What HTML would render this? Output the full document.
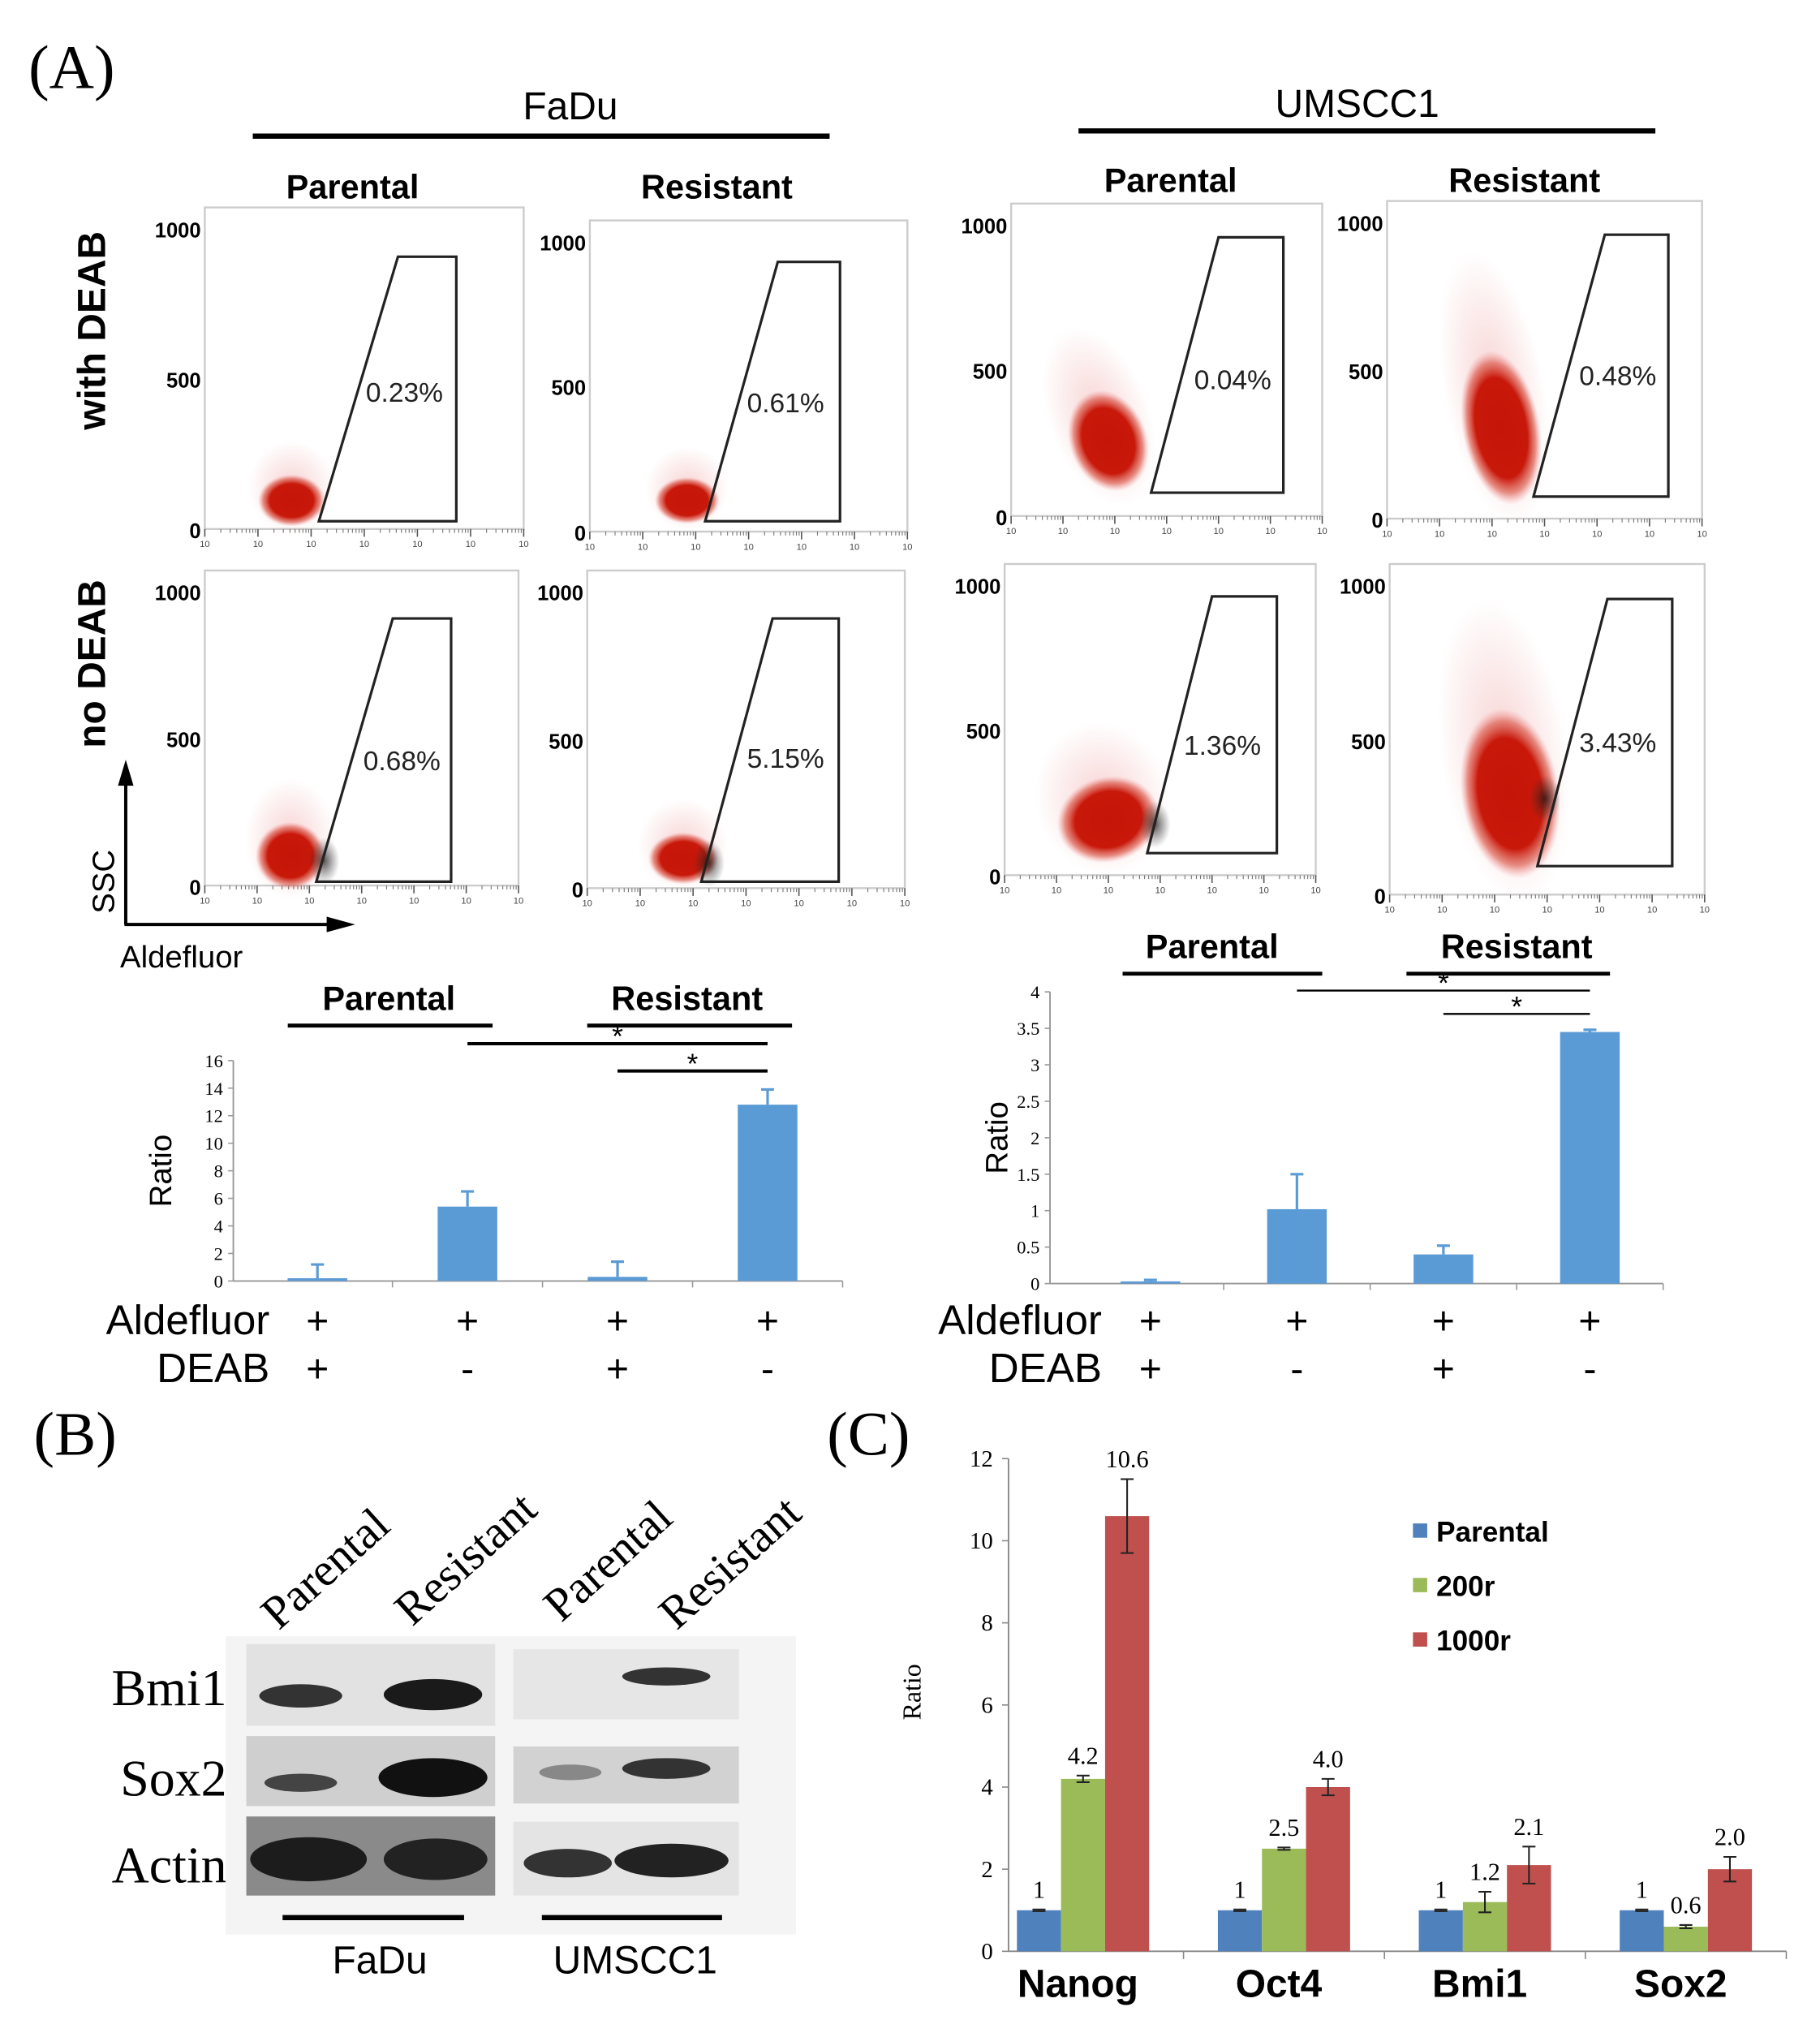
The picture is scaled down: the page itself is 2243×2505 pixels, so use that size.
<!DOCTYPE html>
<html><head><meta charset="utf-8"><style>
html,body{margin:0;padding:0;background:#fff;}
svg{display:block;}
.sans{font-family:"Liberation Sans",sans-serif;}
.serif{font-family:"Liberation Serif",serif;}
</style></head><body>
<svg id="fig" width="2243" height="2505" viewBox="0 0 1404 1568" xmlns="http://www.w3.org/2000/svg">
<defs>
<radialGradient id="redg"><stop offset="0" stop-color="#c41508"/><stop offset="0.65" stop-color="#c8180a"/><stop offset="0.85" stop-color="#d84a3a" stop-opacity="0.6"/><stop offset="1" stop-color="#e88" stop-opacity="0"/></radialGradient>
<radialGradient id="blkg"><stop offset="0" stop-color="#111" stop-opacity="0.7"/><stop offset="1" stop-color="#333" stop-opacity="0"/></radialGradient>
<radialGradient id="fadeg"><stop offset="0" stop-color="#d33" stop-opacity="0.22"/><stop offset="1" stop-color="#d33" stop-opacity="0"/></radialGradient>
</defs>
<rect width="1404" height="1568" fill="#fff"/>
<text class="serif" x="22" y="68" font-size="48">(A)</text>
<text class="sans" x="440" y="92" font-size="30" text-anchor="middle">FaDu</text>
<line x1="195" y1="105" x2="640" y2="105" stroke="#000" stroke-width="4"/>
<text class="sans" x="1047" y="90" font-size="30" text-anchor="middle">UMSCC1</text>
<line x1="832" y1="101" x2="1277" y2="101" stroke="#000" stroke-width="4"/>
<text class="sans" x="272" y="153" font-size="26" font-weight="bold" text-anchor="middle">Parental</text>
<text class="sans" x="553" y="153" font-size="26" font-weight="bold" text-anchor="middle">Resistant</text>
<text class="sans" x="903" y="148" font-size="26" font-weight="bold" text-anchor="middle">Parental</text>
<text class="sans" x="1176" y="148" font-size="26" font-weight="bold" text-anchor="middle">Resistant</text>
<text class="sans" font-size="30" font-weight="bold" text-anchor="middle" transform="translate(81,255) rotate(-90)">with DEAB</text>
<text class="sans" font-size="30" font-weight="bold" text-anchor="middle" transform="translate(81,512) rotate(-90)">no DEAB</text>
<g>
<line x1="97" y1="713" x2="97" y2="600" stroke="#000" stroke-width="2.5"/>
<polygon points="97,586 91,606 103,606" fill="#000"/>
<line x1="96" y1="713" x2="255" y2="713" stroke="#000" stroke-width="2.5"/>
<polygon points="274,713 252,707 252,719" fill="#000"/>
<text class="sans" font-size="24" text-anchor="middle" transform="translate(88,680) rotate(-90)">SSC</text>
<text class="sans" x="140" y="746" font-size="24" text-anchor="middle">Aldefluor</text>
</g>
<g id="flow"></g>
<g id="bar1"></g>
<g id="bar2"></g>
<text class="serif" x="26" y="1122" font-size="48">(B)</text>
<g class="serif" font-size="36">
<text transform="translate(215,1258) rotate(-42)">Parental</text>
<text transform="translate(318,1255) rotate(-42)">Resistant</text>
<text transform="translate(433,1252) rotate(-42)">Parental</text>
<text transform="translate(522,1258) rotate(-42)">Resistant</text>
</g>
<g class="serif" font-size="40" text-anchor="end">
<text x="175" y="1315">Bmi1</text>
<text x="175" y="1385">Sox2</text>
<text x="175" y="1452">Actin</text>
</g>
<g>
<rect x="174" y="1262" width="440" height="230" fill="#f4f4f4"/>
<rect x="190" y="1268" width="192" height="63" fill="#e2e2e2"/>
<ellipse cx="232" cy="1308" rx="32" ry="9" fill="#333"/>
<ellipse cx="334" cy="1307" rx="38" ry="12" fill="#1a1a1a"/>
<rect x="190" y="1339" width="192" height="54" fill="#cfcfcf"/>
<ellipse cx="232" cy="1375" rx="28" ry="7" fill="#444"/>
<ellipse cx="334" cy="1371" rx="42" ry="15" fill="#111"/>
<rect x="190" y="1401" width="192" height="61" fill="#8a8a8a"/>
<ellipse cx="238" cy="1434" rx="45" ry="17" fill="#1c1c1c"/>
<ellipse cx="336" cy="1434" rx="40" ry="16" fill="#222"/>
<rect x="396" y="1272" width="174" height="54" fill="#e6e6e6"/>
<ellipse cx="514" cy="1293" rx="34" ry="7" fill="#333"/>
<rect x="396" y="1347" width="174" height="44" fill="#d2d2d2"/>
<ellipse cx="440" cy="1367" rx="24" ry="6" fill="#888"/>
<ellipse cx="514" cy="1364" rx="34" ry="8" fill="#333"/>
<rect x="396" y="1405" width="174" height="57" fill="#e4e4e4"/>
<ellipse cx="438" cy="1437" rx="34" ry="11" fill="#333"/>
<ellipse cx="518" cy="1435" rx="44" ry="13" fill="#222"/>
<line x1="218" y1="1479" x2="358" y2="1479" stroke="#000" stroke-width="4"/>
<line x1="418" y1="1479" x2="557" y2="1479" stroke="#000" stroke-width="4"/>
<text class="sans" x="293" y="1522" font-size="30" text-anchor="middle">FaDu</text>
<text class="sans" x="490" y="1522" font-size="30" text-anchor="middle">UMSCC1</text>
</g>
<text class="serif" x="638" y="1122" font-size="48">(C)</text>
<g id="barC"></g>
</svg>
<script>
const NS="http://www.w3.org/2000/svg";
function mk(tag,attrs,parent,txt){const e=document.createElementNS(NS,tag);for(const k in attrs)e.setAttribute(k,attrs[k]);if(txt!==undefined)e.textContent=txt;parent.appendChild(e);return e;}

const flowPercents=["0.23%","0.61%","0.04%","0.48%","0.68%","5.15%","1.36%","3.43%"];
const flowBoxes=[[158,160,404,408],[455,170,700,410],[780,157,1020,398],[1070,155,1313,400],[158,440,400,683],[453,440,698,685],[775,435,1015,675],[1072,435,1315,690]];
const flowGates=[[246,307,352,198,402],[544,600,648,202,402],[888,940,990,183,380],[1183,1238,1287,181,383],[244,303,348,477,680],[541,596,647,477,680],[885,935,985,460,658],[1186,1240,1290,462,668]];
const flowClusters=[[225,386,26,20,0],[530,386,25,18,0],[855,340,30,40,-20],[1158,330,30,60,-10],[224,660,27,26,0],[527,662,27,20,0],[855,632,40,33,-15],[1165,612,38,66,-8]];
const flowLabelPos=[[312,303],[606,311],[951,293],[1248,290],[310,587],[606,585],[943,575],[1248,573]];
const gF=document.getElementById('flow');
flowBoxes.forEach((b,i)=>{
  const g=mk('g',{},gF);
  
  
  const [x0,y0,x1,y1]=b;
  mk('rect',{x:x0,y:y0,width:x1-x0,height:y1-y0,fill:'#fff',stroke:'#ccc','stroke-width':1.5},g);
  const yl=[["1000",y0+18],["500",y0+(y1-y0)*0.54],["0",y1+2]];
  yl.forEach(t=>{mk('text',{x:x0-3,y:t[1]+5,'font-size':16,'font-weight':'bold','text-anchor':'end',class:'sans'},g,t[0]);});
  for(let k=0;k<=6;k++){const x=x0+(x1-x0)*k/6;mk('line',{x1:x,y1:y1,x2:x,y2:y1+6,stroke:'#555','stroke-width':1},g);
    mk('text',{x:x,y:y1+14,'font-size':7,'text-anchor':'middle',class:'sans',fill:'#444'},g,'10');
    if(k<6)for(let m=1;m<9;m++){const xm=x+(x1-x0)/6*Math.log10(m+1);mk('line',{x1:xm,y1:y1,x2:xm,y2:y1+3,stroke:'#777','stroke-width':0.7},g);}}
  const c=flowClusters[i];
  mk('ellipse',{cx:c[0],cy:c[1]-c[3]*0.5,rx:c[2]*1.3,ry:c[3]*1.8,fill:'url(#fadeg)',transform:`rotate(${c[4]} ${c[0]} ${c[1]})`},g);
  mk('ellipse',{cx:c[0],cy:c[1],rx:c[2],ry:c[3],fill:'url(#redg)',transform:`rotate(${c[4]} ${c[0]} ${c[1]})`},g);
  const gt=flowGates[i];
  if(i>=4){mk('ellipse',{cx:gt[0]+6,cy:c[1]+4,rx:12,ry:18,fill:'url(#blkg)'},g);}
  mk('polygon',{points:`${gt[0]},${gt[4]} ${gt[1]},${gt[3]} ${gt[2]},${gt[3]} ${gt[2]},${gt[4]}`,fill:'none',stroke:'#222','stroke-width':2},g);
  const lp=flowLabelPos[i];
  mk('text',{x:lp[0],y:lp[1]+7,'font-size':21,'text-anchor':'middle',class:'sans',fill:'#222'},g,flowPercents[i]);
});

const barCats=["c1","c2","c3","c4"];
const aldefluorSigns=["+","+","+","+"];
const deabSigns=["+","-","+","-"];
const fadValues=[0.2,5.4,0.3,12.8];
const fadErrors=[1.0,1.1,1.1,1.1];
const fadTicks=[0,2,4,6,8,10,12,14,16];
const umValues=[0.03,1.02,0.4,3.45];
const umErrors=[0.02,0.48,0.12,0.03];
const umTicks=[0,0.5,1,1.5,2,2.5,3,3.5,4];

function barChart(id,name,cfg,values,errors,ticks){
  const g=document.getElementById(id);
  
  
  const ymax=ticks[ticks.length-1];
  const Y=v=>cfg.y0-(v/ymax)*(cfg.y0-cfg.y1);
  const bw=(cfg.x1-cfg.bx0)/barCats.length;
  const X=i=>cfg.bx0+bw*(i+0.5);
  mk('line',{x1:cfg.x0,y1:cfg.y1,x2:cfg.x0,y2:cfg.y0,stroke:'#999','stroke-width':1.2},g);
  mk('line',{x1:cfg.x0,y1:cfg.y0,x2:cfg.x1,y2:cfg.y0,stroke:'#999','stroke-width':1.2},g);
  ticks.forEach(t=>{mk('line',{x1:cfg.x0-4,y1:Y(t),x2:cfg.x0,y2:Y(t),stroke:'#999'},g);
    mk('text',{x:cfg.x0-8,y:Y(t)+5,'font-size':14,'text-anchor':'end',class:'serif'},g,String(t));});
  for(let i=1;i<=barCats.length;i++)mk('line',{x1:cfg.bx0+bw*i,y1:cfg.y0,x2:cfg.bx0+bw*i,y2:cfg.y0+5,stroke:'#999'},g);
  values.forEach((v,i)=>{
    const b=mk('rect',{x:X(i)-cfg.w/2,y:Y(v),width:cfg.w,height:Y(0)-Y(v),fill:'#5b9bd5'},g);
    
    
    const top=Y(v+errors[i]);
    mk('line',{x1:X(i),y1:Y(v),x2:X(i),y2:top,stroke:'#5b9bd5','stroke-width':2},g);
    mk('line',{x1:X(i)-5,y1:top,x2:X(i)+5,y2:top,stroke:'#5b9bd5','stroke-width':2},g);
    mk('text',{x:X(i),y:cfg.rowY1,'font-size':30,'text-anchor':'middle',class:'sans'},g,aldefluorSigns[i]);
    mk('text',{x:X(i),y:cfg.rowY2,'font-size':30,'text-anchor':'middle',class:'sans'},g,deabSigns[i]);
  });
  mk('text',{'font-size':24,'text-anchor':'middle',class:'sans',transform:`translate(${cfg.ratioX},${(cfg.y0+cfg.y1)/2}) rotate(-90)`},g,'Ratio');
  mk('text',{x:cfg.labX,y:cfg.rowY1,'font-size':32,'text-anchor':'end',class:'sans'},g,'Aldefluor');
  mk('text',{x:cfg.labX,y:cfg.rowY2,'font-size':32,'text-anchor':'end',class:'sans'},g,'DEAB');
  cfg.heads.forEach(h=>{mk('text',{x:h[0],y:cfg.headY,'font-size':26,'font-weight':'bold','text-anchor':'middle',class:'sans'},g,h[1]);
    mk('line',{x1:h[2],y1:cfg.headY+12,x2:h[3],y2:cfg.headY+12,stroke:'#000','stroke-width':3},g);});
  cfg.sig.forEach(s=>{mk('line',{x1:X(s[0]),y1:s[1],x2:X(3),y2:s[1],stroke:'#000','stroke-width':s[2]},g);
    mk('text',{x:(X(s[0])+X(3))/2,y:s[1]+2,'font-size':22,'text-anchor':'middle',class:'sans'},g,'*');});
}
barChart('bar1','fadu-ratio-chart',{x0:180,bx0:187,x1:650,y0:988,y1:818,w:46,rowY1:1029,rowY2:1066,labX:208,ratioX:132,headY:779,
  heads:[[300,'Parental',222,380],[530,'Resistant',453,611]],sig:[[1,805,2.5],[2,826,2.5]]},fadValues,fadErrors,fadTicks);
barChart('bar2','umscc1-ratio-chart',{x0:810,bx0:831,x1:1283,y0:990,y1:765,w:46,rowY1:1029,rowY2:1066,labX:850,ratioX:777,headY:739,
  heads:[[935,'Parental',866,1020],[1170,'Resistant',1085,1242]],sig:[[1,764,1.5],[2,782,1.5]]},umValues,umErrors,umTicks);

const genes=["Nanog","Oct4","Bmi1","Sox2"];
const seriesNames=["Parental","200r","1000r"];
const parentalVals=[1,1,1,1];
const r200Vals=[4.2,2.5,1.2,0.6];
const r1000Vals=[10.6,4.0,2.1,2.0];
const parentalErr=[0.02,0.02,0.02,0.02];
const r200Err=[0.08,0.03,0.25,0.04];
const r1000Err=[0.9,0.2,0.45,0.3];
const valueLabels=[["1","4.2","10.6"],["1","2.5","4.0"],["1","1.2","2.1"],["1","0.6","2.0"]];
const cTicks=[0,2,4,6,8,10,12];
(function(){
  const g=document.getElementById('barC');
  
  
  const x0=778,x1=1378,y0=1505,y1=1125,ymax=12;
  const Y=v=>y0-(v/ymax)*(y0-y1);
  const gstart=758, gw=155, bw=34;
  const colors=["#4f81bd","#9bbb59","#c0504d"];
  const vals=[parentalVals,r200Vals,r1000Vals], errs=[parentalErr,r200Err,r1000Err];
  mk('line',{x1:x0,y1:y1,x2:x0,y2:y0,stroke:'#888','stroke-width':1.2},g);
  mk('line',{x1:x0,y1:y0,x2:x1,y2:y0,stroke:'#888','stroke-width':1.2},g);
  cTicks.forEach(t=>{mk('line',{x1:x0-5,y1:Y(t),x2:x0,y2:Y(t),stroke:'#888'},g);
    mk('text',{x:x0-12,y:Y(t)+6,'font-size':18,'text-anchor':'end',class:'serif'},g,String(t));});
  for(let i=1;i<=genes.length;i++)mk('line',{x1:gstart+gw*i,y1:y0,x2:gstart+gw*i,y2:y0+6,stroke:'#888'},g);
  genes.forEach((gn,i)=>{
    const cx=gstart+gw*(i+0.5);
    mk('text',{x:cx-4,y:1540,'font-size':30,'font-weight':'bold','text-anchor':'middle',class:'sans'},g,gn);
    for(let s=0;s<3;s++){
      const bx=cx-bw*1.5+bw*s, v=vals[s][i];
      const r=mk('rect',{x:bx,y:Y(v),width:bw,height:Y(0)-Y(v),fill:colors[s]},g);
      
      
      const e=errs[s][i], mx=bx+bw/2;
      mk('line',{x1:mx,y1:Y(v-e),x2:mx,y2:Y(v+e),stroke:'#222','stroke-width':1.3},g);
      mk('line',{x1:mx-5,y1:Y(v+e),x2:mx+5,y2:Y(v+e),stroke:'#222','stroke-width':1.3},g);
      mk('line',{x1:mx-5,y1:Y(v-e),x2:mx+5,y2:Y(v-e),stroke:'#222','stroke-width':1.3},g);
      mk('text',{x:mx,y:Y(v+e)-9,'font-size':19,'text-anchor':'middle',class:'serif'},g,valueLabels[i][s]);
    }
  });
  mk('text',{'font-size':20,'text-anchor':'middle',class:'serif',transform:`translate(710,1305) rotate(-90)`},g,'Ratio');
  seriesNames.forEach((n,s)=>{
    const lg=mk('g',{},g);
    
    
    const yy=1181+s*42;
    mk('rect',{x:1090,y:yy-6,width:11,height:11,fill:colors[s]},lg);
    mk('text',{x:1108,y:yy+8,'font-size':22,'font-weight':'bold',class:'sans'},lg,n);
  });
})();
</script>
</body></html>
